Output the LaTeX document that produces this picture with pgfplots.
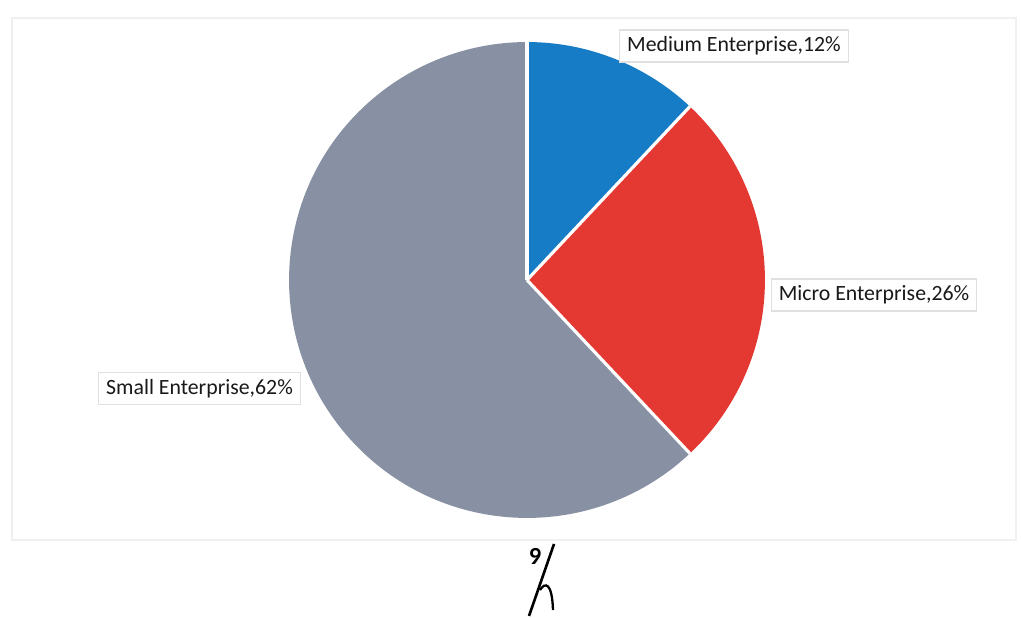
\documentclass[border=0pt]{standalone}
\usepackage{pgfplots}
\pgfplotsset{compat=1.18}
\usepackage{fontspec}
\setmainfont{Carlito}
\definecolor{cMed}{RGB}{22,124,198}
\definecolor{cMic}{RGB}{228,56,50}
\definecolor{cSma}{RGB}{136,145,163}
\definecolor{frameg}{RGB}{240,240,240}
\begin{document}
\begin{tikzpicture}
\begin{axis}[
  x=0.02cm, y=0.02cm,
  xmin=0, xmax=1021, ymin=0, ymax=616,
  hide axis, clip=false,
]
% page extent
\path (axis cs:0,0) rectangle (axis cs:1021,616);
% faint chart frame
\draw[frameg, line width=0.8pt] (axis cs:12,76) rectangle (axis cs:1016,598);
% pie: values (percent) 12 (Medium), 26 (Micro), 62 (Small), clockwise from top
\def\R{4.76cm}
\fill[cMed] (axis cs:527,336) -- ++(90:\R) arc[start angle=90, end angle={90-12*3.6}, radius=\R] -- cycle;
\fill[cMic] (axis cs:527,336) -- ++({90-12*3.6}:\R) arc[start angle={90-12*3.6}, end angle={90-38*3.6}, radius=\R] -- cycle;
\fill[cSma] (axis cs:527,336) -- ++({90-38*3.6}:\R) arc[start angle={90-38*3.6}, end angle={90-100*3.6}, radius=\R] -- cycle;
\draw[white, line width=1.8pt] (axis cs:527,336) -- ++(90:\R);
\draw[white, line width=1.8pt] (axis cs:527,336) -- ++({90-12*3.6}:\R);
\draw[white, line width=1.8pt] (axis cs:527,336) -- ++({90-38*3.6}:\R);
% labels
\tikzset{lbl/.style={draw=black!12, fill=white, line width=0.6pt, inner xsep=0.15cm, minimum height=0.64cm, font=\fontsize{12.4}{14}\selectfont, text=black!90}}
\node[lbl] at (axis cs:734,570) {Medium Enterprise,12\%};
\node[lbl] at (axis cs:874,321) {Micro Enterprise,26\%};
\node[lbl] at (axis cs:199.5,227.5) {Small Enterprise,62\%};
% handwritten page mark
\node[font=\fontsize{14}{16}\selectfont\bfseries] at (axis cs:535,60) {9};
\draw[black, line width=1.5pt] (axis cs:554,72) -- (axis cs:529,0);
\draw[black, line width=1.3pt] (axis cs:540,26) .. controls (axis cs:545,34) and (axis cs:552,34) .. (axis cs:553,6);
\end{axis}
\end{tikzpicture}
\end{document}
